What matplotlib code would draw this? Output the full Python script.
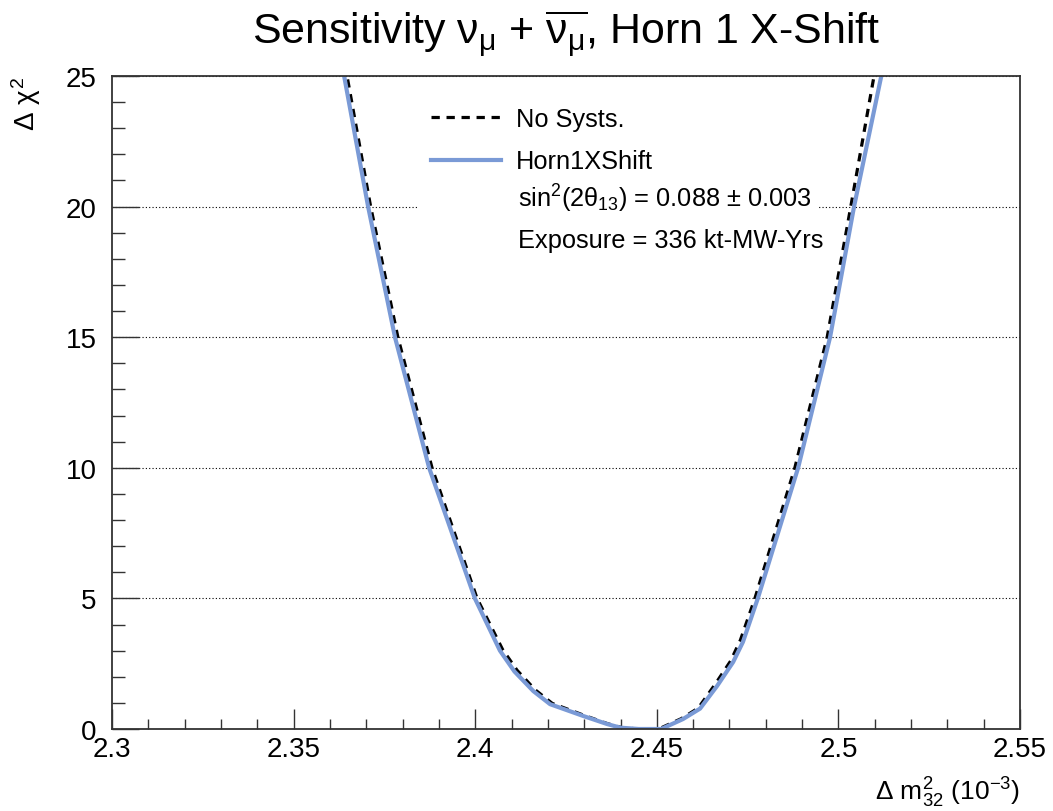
import matplotlib
matplotlib.use("Agg")
import matplotlib.pyplot as plt
from matplotlib.lines import Line2D
from matplotlib.patches import Rectangle
from matplotlib.ticker import MultipleLocator, FuncFormatter

# Daten
x_nosyst = [2.3634, 2.3647, 2.3712, 2.3787, 2.3881, 2.4005, 2.4075, 2.4115, 2.4165,
            2.4212, 2.4300, 2.4365, 2.4405, 2.4450, 2.4505, 2.4568, 2.4614, 2.4660,
            2.4703, 2.4730, 2.4770, 2.4880, 2.4969, 2.5034, 2.5098, 2.5111]
y_nosyst = [26, 25, 20, 15, 10, 5, 3.05, 2.25, 1.5,
            0.98, 0.52, 0.2, 0.05, 0.0, 0.0, 0.4, 0.8, 1.7,
            2.6, 3.4, 5, 10, 15, 20, 25, 26]

x_horn = [2.3626, 2.3639, 2.3705, 2.3779, 2.3873, 2.3999, 2.4068, 2.4108, 2.4160,
          2.4206, 2.4297, 2.4363, 2.4400, 2.4450, 2.4512, 2.4572, 2.4619, 2.4666,
          2.4710, 2.4737, 2.4778, 2.4889, 2.4977, 2.5043, 2.5118, 2.5133]
y_horn = [26, 25, 20, 15, 10, 5, 3.0, 2.2, 1.45,
          0.95, 0.5, 0.19, 0.05, 0.0, 0.0, 0.38, 0.78, 1.65,
          2.56, 3.33, 5, 10, 15, 20, 25, 26]

labels = ["No Systs.", "Horn1XShift"]
infos = [r"sin$^{2}$(2$\theta_{13}$) = 0.088 $\pm$ 0.003",
         "Exposure = 336 kt-MW-Yrs"]

blau = "#7a9ad6"

plt.rcParams["font.family"] = ["Liberation Sans", "DejaVu Sans"]
plt.rcParams["mathtext.fontset"] = "custom"
plt.rcParams["mathtext.rm"] = "Liberation Sans"
plt.rcParams["mathtext.it"] = "Liberation Sans"
plt.rcParams["mathtext.bf"] = "Liberation Sans:bold"

fig = plt.figure(figsize=(10.53, 8.12), dpi=100)
ax = fig.add_axes([0.1064, 0.101, 0.8623, 0.8042])

ax.plot(x_nosyst, y_nosyst, color="black", lw=2.3, dashes=(2.6, 2.1))
ax.plot(x_horn, y_horn, color=blau, lw=3.0, solid_joinstyle="round")

ax.set_xlim(2.3, 2.55)
ax.set_ylim(0, 25)

ax.xaxis.set_major_locator(MultipleLocator(0.05))
ax.xaxis.set_minor_locator(MultipleLocator(0.01))
ax.yaxis.set_major_locator(MultipleLocator(5))
ax.yaxis.set_minor_locator(MultipleLocator(1))
ax.xaxis.set_major_formatter(FuncFormatter(lambda v, p: "%g" % round(v, 3)))
ax.yaxis.set_major_formatter(FuncFormatter(lambda v, p: "%g" % v))

ax.tick_params(axis="both", which="both", direction="in", top=False, right=False,
               labelsize=20, width=1.0, color="#333333")
ax.tick_params(axis="x", which="major", length=14.4, pad=5)
ax.tick_params(axis="x", which="minor", length=7.2)
ax.tick_params(axis="y", which="major", length=19.4, pad=11)
ax.tick_params(axis="y", which="minor", length=9.6)

for s in ax.spines.values():
    s.set_linewidth(1.3)
    s.set_color("#333333")

ax.yaxis.grid(True, which="major", linestyle=(0, (1, 2)), color="black", lw=0.8)
ax.set_axisbelow(True)

ax.set_title(r"Sensitivity $\nu_{\mu}$ + $\overline{\nu_{\mu}}$, Horn 1 X-Shift",
             fontsize=30.9, y=1.049, pad=0, va="baseline")

ax.set_xlabel(r"$\Delta$ m$^{2}_{32}$ (10$^{-3}$)", fontsize=19, loc="right")
ax.xaxis.set_label_coords(1.0, -0.07)
ax.xaxis.label.set_va("top")
ax.set_ylabel(r"$\Delta$ $\chi^{2}$", fontsize=20, loc="top")
ax.yaxis.set_label_coords(-0.076, 1.0)

# weisser Legendenhintergrund (ohne Rahmen), verdeckt die Gitterlinie
ax.add_patch(Rectangle((0.337, 0.717), 0.441, 0.26, transform=ax.transAxes,
                       facecolor="white", edgecolor="none", zorder=2.5))

handles = [Line2D([], [], color="black", lw=2.3, dashes=(2.6, 2.1)),
           Line2D([], [], color=blau, lw=3.0)]
leg = ax.legend(handles, labels, loc="upper left", bbox_to_anchor=(0.337, 0.9725),
                borderaxespad=0, borderpad=0.5, fontsize=18.3, handlelength=2.75,
                handletextpad=0.6, labelspacing=0.74, frameon=False)

for txt, yb in zip(infos, [0.7994, 0.7381]):
    ax.text(0.4471, yb, txt, transform=ax.transAxes, fontsize=18.3,
            ha="left", va="baseline", zorder=6)

fig.savefig("out.png", dpi=100)
